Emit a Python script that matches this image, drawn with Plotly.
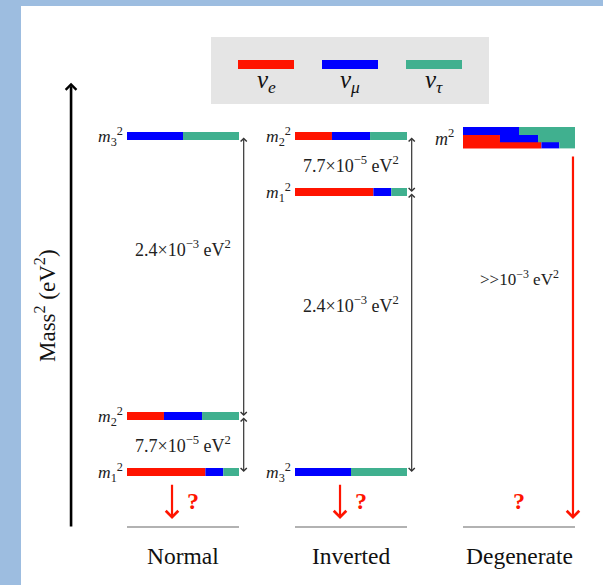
import plotly.graph_objects as go

# ---------------- data ----------------
mass_states = ["1", "2", "3"]
# flavour content of each mass eigenstate (fractions of nu_e, nu_mu, nu_tau)
nu_e_frac = [0.70, 0.33, 0.00]
nu_mu_frac = [0.16, 0.34, 0.50]
nu_tau_frac = [0.14, 0.33, 0.50]

orderings = ["Normal", "Inverted", "Degenerate"]
# schematic mass^2 level of m1, m2, m3 in each ordering (diagram units)
normal_level = [0.0, 1.0, 6.0]
inverted_level = [5.0, 6.0, 0.0]
degenerate_level = [5.85, 5.96, 6.09]

flavor_labels = ["<i>ν</i><sub><i>e</i></sub>", "<i>ν</i><sub><i>μ</i></sub>", "<i>ν</i><sub><i>τ</i></sub>"]
solar_label = "7.7×10<sup>−5</sup> eV<sup>2</sup>"
atm_label = "2.4×10<sup>−3</sup> eV<sup>2</sup>"
degen_label = "&gt;&gt;10<sup>−3</sup> eV<sup>2</sup>"
yaxis_title = "Mass<sup>2</sup> (eV<sup>2</sup>)"

# ---------------- style ----------------
W, H = 603, 585
COLORS = ["#ff1400", "#0000ff", "#40b08f"]
FONT = "Liberation Serif"
PX_X, X0 = 168.0, 127.0   # px per column unit, px of column 0 start
PX_Y, Y0 = 56.0, 472.0    # px per level unit, px of level 0
BAR_W = 112.0 / PX_X
BAR_T = 8.0 / PX_Y

def paper_x(p):
    return p / W

def paper_y(p):
    return 1 - p / H

fig = go.Figure()

levels_by_order = [normal_level, inverted_level, degenerate_level]
fracs = [nu_e_frac, nu_mu_frac, nu_tau_frac]

for col, (name, levels) in enumerate(zip(orderings, levels_by_order)):
    for s in range(len(mass_states)):
        cum = 0.0
        for f in range(3):
            fr = fracs[f][s]
            if fr > 0:
                fig.add_trace(go.Bar(
                    orientation="h", y=[levels[s]], x=[fr * BAR_W],
                    base=[col + cum * BAR_W], width=BAR_T,
                    marker=dict(color=COLORS[f], line=dict(width=0)),
                    showlegend=False, hoverinfo="skip"))
            cum += fr

# mass labels
for col, levels in enumerate(levels_by_order[:2]):
    for s, st in enumerate(mass_states):
        fig.add_annotation(x=col - 0.012, y=levels[s], xref="x", yref="y",
                           text=f"<i>m</i><sub>{st}</sub><sup>2</sup>",
                           showarrow=False, xanchor="right", yanchor="middle",
                           font=dict(family=FONT, size=17.5, color="#222"))
fig.add_annotation(x=2 - 0.04, y=sum(degenerate_level) / 3, xref="x", yref="y",
                   text="<i>m</i><sup>2</sup>", showarrow=False,
                   xanchor="right", yanchor="middle",
                   font=dict(family=FONT, size=18, color="#222"))

def double_arrow(x, y_top, y_bot):
    fig.add_annotation(x=x, y=y_bot, ax=x, ay=y_top, xref="x", yref="y",
                       axref="x", ayref="y", text="", showarrow=True,
                       arrowhead=4, startarrowhead=4, arrowside="end+start",
                       arrowsize=1, startarrowsize=1, arrowwidth=1.2,
                       arrowcolor="#333")

def label(x, y, text, size=18, color="#222"):
    fig.add_annotation(x=x, y=y, xref="x", yref="y", text=text, showarrow=False,
                       xanchor="center", yanchor="middle",
                       font=dict(family=FONT, size=size, color=color))

ax_x = BAR_W + 0.028
# Normal
double_arrow(0 + ax_x, normal_level[2], normal_level[1])
double_arrow(0 + ax_x, normal_level[1], normal_level[0])
label(0 + BAR_W / 2, normal_level[1] + 0.6 * (normal_level[2] - normal_level[1]), atm_label)
label(0 + BAR_W / 2, (normal_level[0] + normal_level[1]) / 2, solar_label)
# Inverted
double_arrow(1 + ax_x, inverted_level[1], inverted_level[0])
double_arrow(1 + ax_x, inverted_level[0], inverted_level[2])
label(1 + BAR_W / 2, inverted_level[2] + 0.6 * (inverted_level[0] - inverted_level[2]), atm_label)
label(1 + BAR_W / 2, (inverted_level[0] + inverted_level[1]) / 2, solar_label)
# Degenerate
label(2 + BAR_W / 2, 3.46, degen_label, size=17)

base_y = -0.98
for col, name in enumerate(orderings):
    fig.add_shape(type="line", xref="x", yref="y", x0=col, x1=col + BAR_W,
                  y0=base_y, y1=base_y, line=dict(color="#999", width=1.5))
    fig.add_annotation(x=col + BAR_W / 2, y=-1.5, xref="x", yref="y", text=name,
                       showarrow=False, xanchor="center", yanchor="middle",
                       font=dict(family=FONT, size=23.5, color="#111"))
    fig.add_annotation(x=col + (0.393 if col < 2 else BAR_W / 2), y=-0.52,
                       xref="x", yref="y", text="<b>?</b>", showarrow=False,
                       xanchor="center", yanchor="middle",
                       font=dict(family=FONT, size=24, color="#ff1400"))

def red_arrow(x, y_from, y_to):
    fig.add_annotation(x=x, y=y_to, ax=x, ay=y_from, xref="x", yref="y",
                       axref="x", ayref="y", text="", showarrow=True,
                       arrowhead=4, arrowsize=1.1, arrowwidth=2.2,
                       arrowcolor="#ff1400")

red_arrow(0 + 0.268, -0.2, -0.84)
red_arrow(1 + 0.268, -0.2, -0.84)
red_arrow(2 + BAR_W - 0.012, 5.66, -0.84)

# vertical axis arrow
fig.add_annotation(x=-0.333, y=6.95, ax=-0.333, ay=-1.0, xref="x", yref="y",
                   axref="x", ayref="y", text="", showarrow=True, arrowhead=4,
                   arrowsize=0.8, arrowwidth=2.6, arrowcolor="#000")
fig.add_annotation(x=paper_x(45), y=paper_y(305), xref="paper", yref="paper",
                   text=yaxis_title, textangle=-90, showarrow=False,
                   xanchor="center", yanchor="middle",
                   font=dict(family=FONT, size=23, color="#111"))

# background panel
fig.add_shape(type="rect", xref="paper", yref="paper", x0=paper_x(21), x1=1,
              y0=0, y1=paper_y(6), fillcolor="white", line=dict(width=0),
              layer="below")
# legend box
fig.add_shape(type="rect", xref="paper", yref="paper", x0=paper_x(211), x1=paper_x(489),
              y0=paper_y(104), y1=paper_y(37), fillcolor="#e5e5e5",
              line=dict(width=0), layer="below")
leg_x = [238, 322, 406]
for i in range(3):
    fig.add_shape(type="rect", xref="paper", yref="paper",
                  x0=paper_x(leg_x[i]), x1=paper_x(leg_x[i] + 56),
                  y0=paper_y(69), y1=paper_y(60), fillcolor=COLORS[i],
                  line=dict(width=0))
    fig.add_annotation(x=paper_x(leg_x[i] + 28), y=paper_y(82), xref="paper", yref="paper",
                       text=flavor_labels[i], showarrow=False, xanchor="center",
                       yanchor="middle", font=dict(family=FONT, size=25, color="#111"))

fig.update_layout(
    width=W, height=H, margin=dict(l=0, r=0, t=0, b=0, pad=0),
    paper_bgcolor="#9dbde0", plot_bgcolor="rgba(0,0,0,0)",
    barmode="overlay", showlegend=False,
    xaxis=dict(range=[-X0 / PX_X, (W - X0) / PX_X], visible=False, fixedrange=True),
    yaxis=dict(range=[-(H - Y0) / PX_Y, Y0 / PX_Y], visible=False, fixedrange=True),
)

fig.write_html("out.html", config={"displayModeBar": False},
               post_script="document.body.style.margin='0';document.body.style.overflow='hidden';")
